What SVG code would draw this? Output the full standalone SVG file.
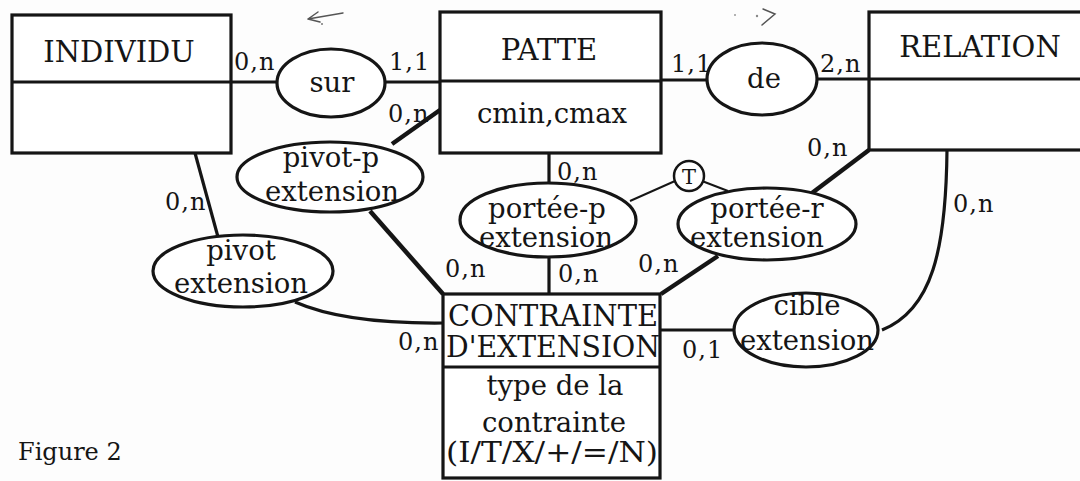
<svg xmlns="http://www.w3.org/2000/svg" width="1080" height="481" viewBox="0 0 1080 481">
  <style>
    .box { fill: #fff; stroke: #151515; stroke-width: 3.2; }
    .div { fill: none; stroke: #151515; stroke-width: 3.2; }
    .rel { fill: #fff; stroke: #151515; stroke-width: 3.2; }
    .link { fill: none; stroke: #151515; stroke-width: 3.2; }
    .heavy { stroke-width: 4.5; }
    .light { stroke-width: 2; }
    .pen { fill: none; stroke: #555; stroke-width: 1.5; stroke-linecap: round; }
    text { font-family: "DejaVu Serif", "Liberation Serif", serif; fill: #151515; }
    .t { font-size: 27.5px; text-anchor: middle; }
    .h { font-size: 29px; text-anchor: middle; }
    .card { font-size: 24px; letter-spacing: 1px; }
  </style>
  <rect width="1080" height="481" fill="#fdfdfd"/>

  <!-- pen marks above the links -->
  <g id="pen-marks">
    <path class="pen" d="M343,13 L308,19 M308,19 L318,12 M308,19 L320,22"/>
    <circle cx="322" cy="24" r="1" fill="#777"/>
    <path class="pen" d="M763,9 L775,14 L762,25"/>
    <circle cx="735" cy="15" r="1" fill="#999"/>
    <circle cx="757" cy="16" r="1.2" fill="#888"/>
  </g>

  <!-- connectors -->
  <g id="connectors">
    <line class="link" x1="231" y1="82" x2="277" y2="82"/>
    <line class="link" x1="385" y1="82" x2="440" y2="82"/>
    <line class="link" x1="661" y1="80" x2="707" y2="80"/>
    <line class="link" x1="817" y1="79" x2="869" y2="79"/>
    <line class="link heavy" x1="440" y1="110" x2="392" y2="144"/>
    <line class="link" x1="195" y1="153" x2="218" y2="237"/>
    <path class="link" d="M295,302 Q345,324 443,323"/>
    <line class="link heavy" x1="370" y1="211" x2="443" y2="294"/>
    <line class="link" x1="549" y1="153" x2="549" y2="184"/>
    <line class="link" x1="549" y1="256" x2="549" y2="294"/>
    <line class="link light" x1="630" y1="201" x2="675" y2="181"/>
    <line class="link light" x1="702" y1="181" x2="728" y2="191"/>
    <line class="link heavy" x1="812" y1="193" x2="869" y2="150"/>
    <line class="link heavy" x1="718" y1="256" x2="661" y2="294"/>
    <line class="link" x1="660" y1="330" x2="735" y2="330"/>
    <path class="link" d="M947,150 C946,250 932,310 882,330"/>
  </g>

  <!-- entities -->
  <g id="individu">
    <rect class="box" x="12" y="15" width="219" height="138"/>
    <line class="div" x1="12" y1="82" x2="231" y2="82"/>
    <text class="h" x="119" y="62">INDIVIDU</text>
  </g>
  <g id="patte">
    <rect class="box" x="440" y="12" width="221" height="141"/>
    <line class="div" x1="440" y1="81" x2="661" y2="81"/>
    <text class="h" x="549" y="60">PATTE</text>
    <text class="t" x="552" y="123">cmin,cmax</text>
  </g>
  <g id="relation">
    <rect class="box" x="869" y="12" width="220" height="138"/>
    <line class="div" x1="869" y1="79" x2="1080" y2="79"/>
    <text class="h" x="980" y="57">RELATION</text>
  </g>
  <g id="contrainte-extension">
    <rect class="box" x="443" y="294" width="217" height="184"/>
    <line class="div" x1="443" y1="367" x2="660" y2="367"/>
    <text class="h" x="553" y="326" textLength="210" lengthAdjust="spacingAndGlyphs">CONTRAINTE</text>
    <text class="h" x="553" y="357" textLength="214" lengthAdjust="spacingAndGlyphs">D'EXTENSION</text>
    <text class="t" x="555" y="395">type de la</text>
    <text class="t" x="554" y="432">contrainte</text>
    <text class="t" x="552" y="462" textLength="212" lengthAdjust="spacingAndGlyphs">(I/T/X/+/=/N)</text>
  </g>

  <!-- associations -->
  <g id="sur">
    <ellipse class="rel" cx="331" cy="83" rx="54" ry="34"/>
    <text class="t" x="332" y="92">sur</text>
  </g>
  <g id="de">
    <ellipse class="rel" cx="762" cy="79" rx="55" ry="36"/>
    <text class="t" x="764" y="88">de</text>
  </g>
  <g id="pivot-p-extension">
    <ellipse class="rel" cx="330" cy="177" rx="93" ry="35"/>
    <text class="t" x="331" y="167">pivot-p</text>
    <text class="t" x="332" y="201">extension</text>
  </g>
  <g id="pivot-extension">
    <ellipse class="rel" cx="243" cy="271" rx="90" ry="36"/>
    <text class="t" x="241" y="260">pivot</text>
    <text class="t" x="241" y="293">extension</text>
  </g>
  <g id="portee-p-extension">
    <ellipse class="rel" cx="548" cy="220" rx="88" ry="37"/>
    <text class="t" x="547" y="218">portée-p</text>
    <text class="t" x="546" y="247">extension</text>
  </g>
  <g id="portee-r-extension">
    <ellipse class="rel" cx="767" cy="224" rx="89" ry="36"/>
    <text class="t" x="767" y="218">portée-r</text>
    <text class="t" x="757" y="247">extension</text>
  </g>
  <g id="cible-extension">
    <ellipse class="rel" cx="806" cy="330" rx="72" ry="37"/>
    <text class="t" x="807" y="315">cible</text>
    <text class="t" x="807" y="350">extension</text>
  </g>
  <g id="totalite">
    <circle class="rel" cx="689" cy="176" r="15" style="stroke-width:2.5"/>
    <text x="689" y="184" style="font-size:21px;text-anchor:middle">T</text>
  </g>

  <!-- cardinalities -->
  <g id="cardinalities">
    <text class="card" x="234" y="70">0,n</text>
    <text class="card" x="389" y="70">1,1</text>
    <text class="card" x="388" y="122">0,n</text>
    <text class="card" x="671" y="72">1,1</text>
    <text class="card" x="820" y="72">2,n</text>
    <text class="card" x="807" y="156">0,n</text>
    <text class="card" x="953" y="212">0,n</text>
    <text class="card" x="165" y="210">0,n</text>
    <text class="card" x="557" y="180">0,n</text>
    <text class="card" x="445" y="277">0,n</text>
    <text class="card" x="558" y="282">0,n</text>
    <text class="card" x="638" y="272">0,n</text>
    <text class="card" x="682" y="358">0,1</text>
    <text class="card" x="398" y="350">0,n</text>
  </g>

  <text x="18" y="460" style="font-size:24px">Figure 2</text>
</svg>
